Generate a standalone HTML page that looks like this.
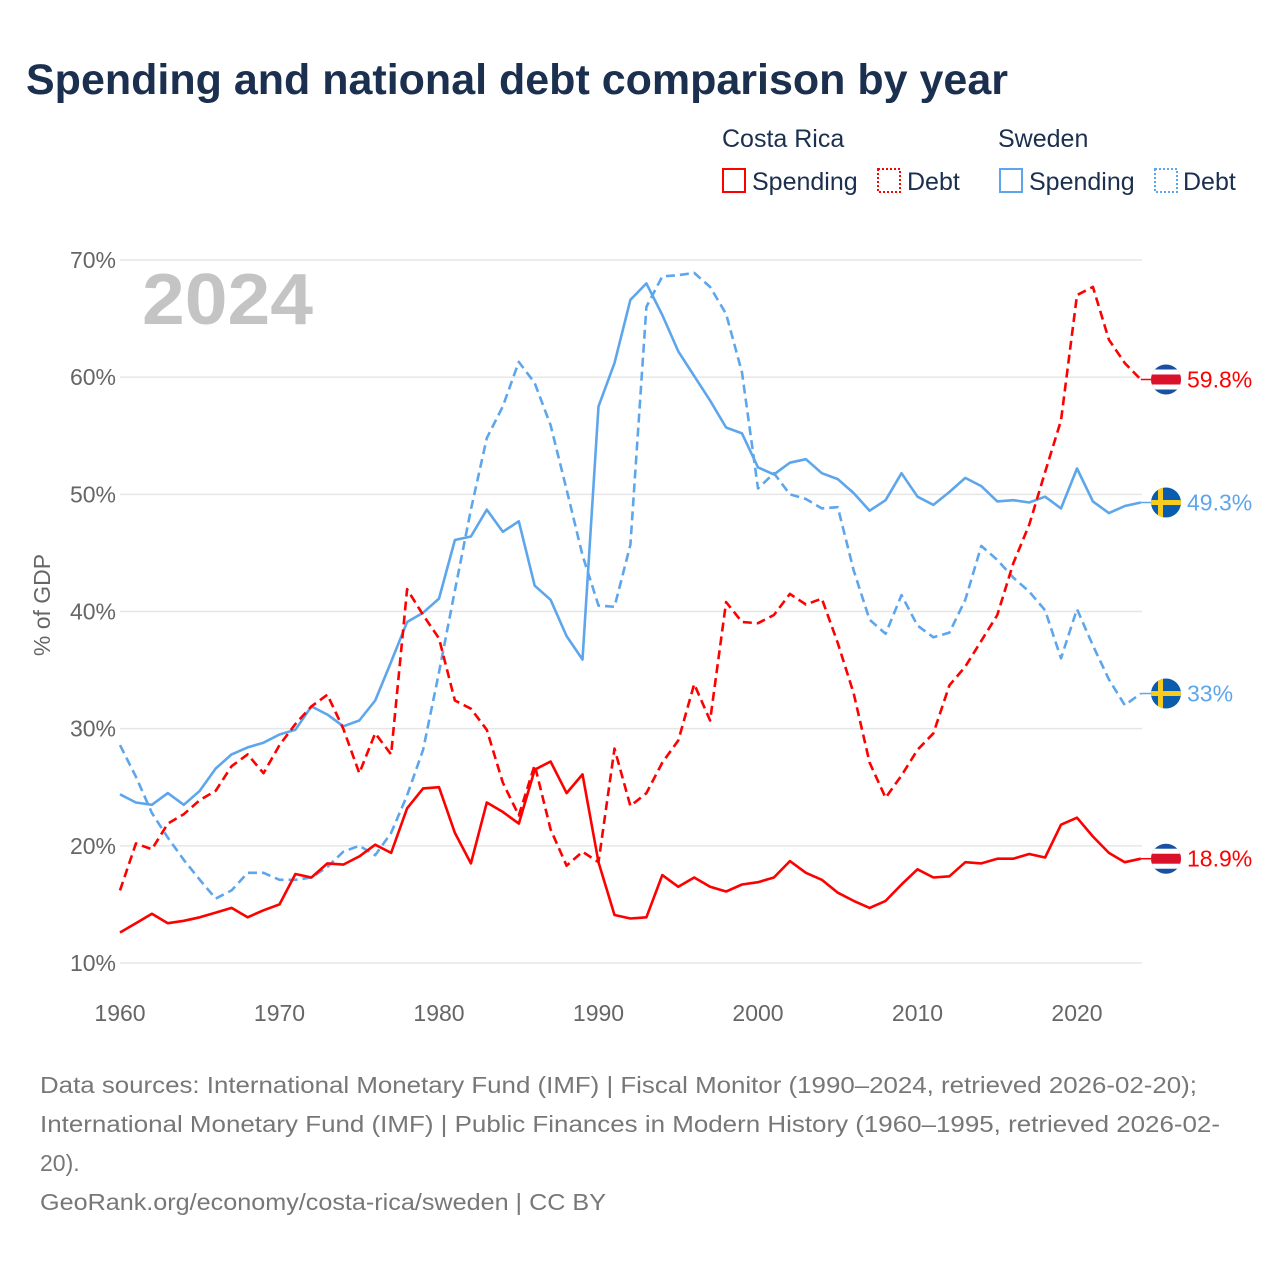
<!DOCTYPE html>
<html><head><meta charset="utf-8">
<style>
body{margin:0;background:#fff;width:1280px;height:1280px;overflow:hidden;font-family:"Liberation Sans",sans-serif;}
svg text{font-family:"Liberation Sans",sans-serif;}
</style></head>
<body>
<svg id="chart" width="1280" height="1280" xmlns="http://www.w3.org/2000/svg">
<text x="26" y="94" font-size="43" font-weight="bold" fill="#1b2f4f" textLength="982" lengthAdjust="spacingAndGlyphs">Spending and national debt comparison by year</text>
<g font-size="25" fill="#1b2f4f">
<text x="722" y="147">Costa Rica</text>
<text x="998" y="147">Sweden</text>
<g><rect x="723" y="169" width="22" height="23" fill="none" stroke="#f00" stroke-width="2"/><text x="752" y="190">Spending</text></g>
<g><rect x="878" y="169" width="22" height="23" fill="none" stroke="#f00" stroke-width="2" stroke-dasharray="2,2"/><text x="907" y="190">Debt</text></g>
<g><rect x="1000" y="169" width="22" height="23" fill="none" stroke="#5ea6ec" stroke-width="2"/><text x="1029" y="190">Spending</text></g>
<g><rect x="1155" y="169" width="22" height="23" fill="none" stroke="#5ea6ec" stroke-width="2" stroke-dasharray="2,2"/><text x="1183" y="190">Debt</text></g>
</g>
<text x="142" y="324" font-size="72" font-weight="bold" fill="#c4c4c4" textLength="171" lengthAdjust="spacingAndGlyphs">2024</text>
<g id="grid"></g><g id="axes"></g><g id="series"></g><g id="ends"></g>
<text transform="translate(50,605) rotate(-90)" text-anchor="middle" font-size="23" fill="#666">% of GDP</text>
<g font-size="23" fill="#777">
<text x="40" y="1093" textLength="1157" lengthAdjust="spacingAndGlyphs">Data sources: International Monetary Fund (IMF) | Fiscal Monitor (1990–2024, retrieved 2026-02-20);</text>
<text x="40" y="1132" textLength="1180" lengthAdjust="spacingAndGlyphs">International Monetary Fund (IMF) | Public Finances in Modern History (1960–1995, retrieved 2026-02-</text>
<text x="40" y="1171">20).</text>
<text x="40" y="1210" textLength="566" lengthAdjust="spacingAndGlyphs">GeoRank.org/economy/costa-rica/sweden | CC BY</text>
</g>
</svg>
<script>
const years=[];for(let y=1960;y<=2024;y++)years.push(y);
const yTicks=[10,20,30,40,50,60,70];
const xTicks=[1960,1970,1980,1990,2000,2010,2020];
const crSpending=[12.6,13.4,14.2,13.4,13.6,13.9,14.3,14.7,13.9,14.5,15.0,17.6,17.3,18.5,18.4,19.1,20.1,19.4,23.2,24.9,25.0,21.1,18.5,23.7,22.9,21.9,26.5,27.2,24.5,26.1,18.6,14.1,13.8,13.9,17.5,16.5,17.3,16.5,16.1,16.7,16.9,17.3,18.7,17.7,17.1,16.0,15.3,14.7,15.3,16.7,18.0,17.3,17.4,18.6,18.5,18.9,18.9,19.3,19.0,21.8,22.4,20.8,19.4,18.6,18.9];
const crDebt=[16.2,20.2,19.7,21.9,22.7,23.9,24.7,26.8,27.8,26.2,28.6,30.4,31.9,32.9,30.0,26.2,29.6,27.8,41.9,39.7,37.7,32.4,31.7,29.9,25.4,22.6,26.9,21.4,18.3,19.5,18.6,28.3,23.4,24.5,27.1,29.0,33.8,30.7,40.8,39.1,39.0,39.7,41.5,40.6,41.1,37.3,33.0,27.1,24.1,26.0,28.2,29.6,33.7,35.3,37.5,39.7,44.1,47.4,51.9,56.3,67.0,67.7,63.2,61.2,59.8];
const seSpending=[24.4,23.7,23.5,24.5,23.5,24.7,26.6,27.8,28.4,28.8,29.5,29.9,31.9,31.2,30.2,30.7,32.4,35.7,39.1,39.9,41.1,46.1,46.4,48.7,46.8,47.7,42.2,41.0,37.9,35.9,57.5,61.2,66.6,68.0,65.3,62.2,60.1,58.0,55.7,55.2,52.3,51.7,52.7,53.0,51.8,51.3,50.1,48.6,49.5,51.8,49.8,49.1,50.2,51.4,50.7,49.4,49.5,49.3,49.8,48.8,52.2,49.4,48.4,49.0,49.3];
const seDebt=[28.6,25.9,22.8,20.7,18.8,17.1,15.5,16.2,17.7,17.7,17.1,17.1,17.3,18.2,19.5,20.0,19.2,21.1,24.3,28.2,34.8,41.8,48.7,54.8,57.5,61.3,59.5,55.9,50.4,44.8,40.5,40.4,45.7,66.0,68.6,68.7,68.9,67.7,65.4,60.4,50.5,51.8,50.0,49.6,48.8,48.9,43.5,39.3,38.1,41.4,38.8,37.8,38.2,41.0,45.6,44.4,42.9,41.7,40.1,36.0,40.2,37.1,34.2,32.0,33.0];
const NS="http://www.w3.org/2000/svg";
const X=y=>120+(y-1960)*15.95;
const Y=v=>963-(v-10)*11.717;
function mk(tag,attrs,parent){const e=document.createElementNS(NS,tag);for(const k in attrs)e.setAttribute(k,attrs[k]);parent.appendChild(e);return e;}
const grid=document.getElementById('grid'),axes=document.getElementById('axes'),series=document.getElementById('series'),ends=document.getElementById('ends');
yTicks.forEach(t=>{
 const l=mk('line',{x1:120,x2:1142,y1:Y(t),y2:Y(t),stroke:'#e6e6e6','stroke-width':1.5},grid);
 
 
 const tx=mk('text',{x:116,y:Y(t)+8,'text-anchor':'end','font-size':23,fill:'#666'},axes);
 tx.textContent=t+'%';
 
 
});
xTicks.forEach(t=>{
 const tx=mk('text',{x:X(t),y:1021,'text-anchor':'middle','font-size':23,fill:'#666'},axes);
 tx.textContent=t;
 
 
});
function line(vals,color,dash,name){
 const d=vals.map((v,i)=>(i?'L':'M')+X(years[i]).toFixed(1)+','+Y(v).toFixed(1)).join('');
 const p=mk('path',{d:d,fill:'none',stroke:color,'stroke-width':2.6,'stroke-linejoin':'round'},series);
 if(dash)p.setAttribute('stroke-dasharray','9,5');
 
 
}
line(seDebt,'#5ea6ec',true,'line-sweden-debt');
line(seSpending,'#5ea6ec',false,'line-sweden-spending');
line(crDebt,'#f00',true,'line-costa-rica-debt');
line(crSpending,'#f00',false,'line-costa-rica-spending');
function endLabel(vals,color,flag,name){
 const v=vals[vals.length-1],y=Y(v),x0=X(2024);
 const c=mk('line',{x1:x0,x2:1152,y1:y,y2:y,stroke:color,'stroke-width':1.5},ends);
 
 
 const g=mk('g',{},ends);
 
 
 const cid='clip'+name;
 const cp=mk('clipPath',{id:cid},g);mk('circle',{cx:1166,cy:y,r:15},cp);
 const gg=mk('g',{'clip-path':'url(#'+cid+')'},g);
 if(flag==='cr'){
  mk('rect',{x:1150,y:y-16,width:32,height:32,fill:'#1a4fa3'},gg);
  mk('rect',{x:1150,y:y-10,width:32,height:20,fill:'#fff'},gg);
  mk('rect',{x:1150,y:y-5,width:32,height:10,fill:'#d9112b'},gg);
 }else{
  mk('rect',{x:1150,y:y-16,width:32,height:32,fill:'#0a5cad'},gg);
  mk('rect',{x:1150,y:y-2.5,width:32,height:5,fill:'#f7cc1e'},gg);
  mk('rect',{x:1158,y:y-16,width:5,height:32,fill:'#f7cc1e'},gg);
 }
 const t=mk('text',{x:1187,y:y+8,'font-size':23,fill:color},ends);
 t.textContent=(Math.round(v*10)/10)+'%';
 
 
}
endLabel(crDebt,'#f00','cr','end-cr-debt');
endLabel(seSpending,'#5ea6ec','se','end-se-spending');
endLabel(seDebt,'#5ea6ec','se','end-se-debt');
endLabel(crSpending,'#f00','cr','end-cr-spending');
</script>
</body></html>
